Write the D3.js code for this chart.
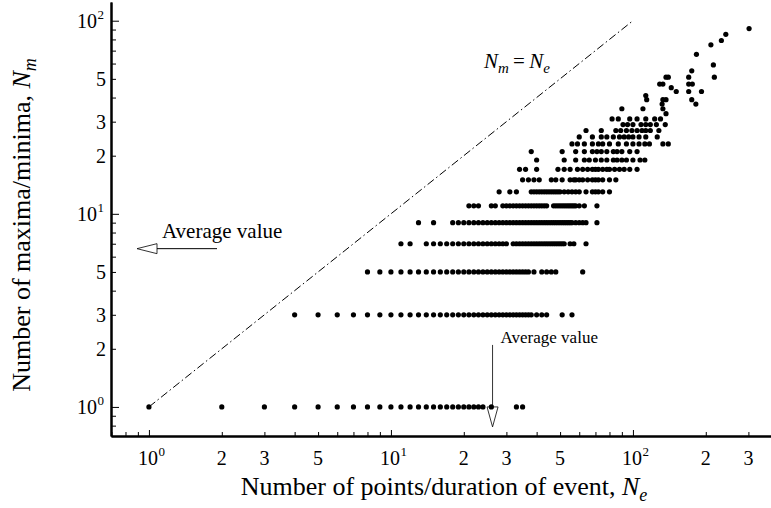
<!DOCTYPE html>
<html>
<head>
<meta charset="utf-8">
<script src="https://cdn.jsdelivr.net/npm/d3@7"></script>
<style>
  html, body { margin: 0; padding: 0; background: #fff; }
  svg { display: block; }
  text { font-family: "Liberation Serif", "Times New Roman", serif; fill: #000; }
</style>
</head>
<body>
<svg id="chart" width="771" height="508"></svg>
<script>
// Number of maxima/minima (odd counts) for each group of events
const nmLevels = [1, 3, 5, 7, 9, 11, 13, 15, 17, 19, 21, 23, 25, 27, 29, 31, 33, 35, 37, 39, 41, 43, 45, 47, 51, 55, 59, 67, 75, 79, 85, 91];

// Event durations (number of points) observed at each level above
const neAtLevel = [
  [1, 2, 3, 4, 5, 6, 7, 8, 9, 10, 11, 12, 13, 14, 15, 16, 17, 18, 19, 20, 21, 22, 23, 24, 26, 33, 35],
  [4, 5, 6, 7, 8, 9, 10, 11, 12, 13, 14, 15, 16, 17, 18, 19, 20, 21, 22, 23, 24, 25, 26, 27, 28, 29, 30, 31, 32, 33, 34, 35, 36, 37, 38, 40, 42, 44, 51, 56],
  [8, 9, 10, 11, 12, 13, 14, 15, 16, 17, 18, 19, 20, 21, 22, 23, 24, 25, 26, 27, 28, 29, 30, 31, 32, 33, 34, 35, 36, 37, 39, 42, 44, 46, 48, 62],
  [11, 12, 14, 15, 16, 17, 18, 19, 20, 21, 22, 23, 24, 25, 26, 27, 28, 29, 30, 32, 33, 34, 35, 36, 37, 38, 39, 40, 41, 42, 43, 44, 45, 46, 47, 48, 49, 50, 51, 52, 55, 57, 64],
  [13, 15, 18, 19, 20, 21, 22, 23, 24, 25, 26, 27, 28, 29, 30, 31, 32, 33, 34, 35, 36, 37, 38, 39, 40, 41, 42, 43, 44, 45, 46, 47, 48, 49, 50, 51, 52, 53, 54, 55, 56, 58, 60, 62, 64, 71],
  [21, 22, 23, 26, 27, 29, 30, 31, 32, 33, 34, 35, 36, 37, 38, 39, 40, 41, 42, 43, 44, 47, 48, 49, 50, 51, 52, 53, 54, 55, 56, 57, 58, 60, 63, 71],
  [28, 31, 33, 38, 39, 40, 41, 42, 43, 44, 45, 46, 47, 48, 49, 50, 52, 54, 56, 58, 60, 64, 68, 70, 72, 75, 80],
  [35, 37, 39, 41, 46, 48, 51, 55, 57, 58, 60, 62, 65, 68, 70, 72, 75, 80, 85],
  [34, 36, 40, 49, 52, 55, 59, 62, 65, 68, 70, 72, 75, 78, 80, 84, 88, 92, 97, 104],
  [40, 52, 58, 63, 66, 70, 74, 78, 83, 86, 90, 94, 100, 107, 112],
  [38, 51, 58, 63, 68, 71, 74, 78, 83, 86, 90, 97, 104],
  [56, 59, 63, 68, 72, 75, 80, 87, 94, 100, 106, 112, 117, 133, 140],
  [60, 68, 74, 78, 83, 88, 92, 96, 100, 106, 113, 126],
  [64, 74, 85, 89, 94, 99, 104, 109, 113, 118, 128],
  [91, 95, 100, 108, 113, 118, 125, 136],
  [82, 87, 97, 104, 113, 123, 130],
  [137],
  [90, 110, 133],
  [132, 182],
  [114, 133, 137, 175],
  [113],
  [151, 170, 192],
  [144],
  [129, 133, 170, 176],
  [137, 140, 170, 217],
  [175],
  [215],
  [183],
  [210],
  [232],
  [242],
  [302]
];

// Averages marked by the arrows
const avgNe = 26.3;
const avgNm = 6.6;

// Axis extents and ticks
const xDomain = [0.697, 372];
const yDomain = [0.707, 125];
const majorTicks = [1, 10, 100];
const xLabelTicks = [2, 3, 5, 20, 30, 50, 200, 300];
const yLabelTicks = [2, 3, 5, 20, 30, 50];
const xMinorTicks = [0.7, 0.8, 0.9, 2, 3, 4, 5, 6, 7, 8, 9, 20, 30, 40, 50, 60, 70, 80, 90, 200, 300];
const yMinorTicks = [0.8, 0.9, 2, 3, 4, 5, 6, 7, 8, 9, 20, 30, 40, 50, 60, 70, 80, 90];

const svg = d3.select("#chart");
const plotLeft = 111, plotTop = 2, plotBottom = 436, plotRight = 771;

const x = d3.scaleLog().domain(xDomain).range([plotLeft, plotRight]);
const y = d3.scaleLog().domain(yDomain).range([plotBottom, plotTop]);

const points = [];
nmLevels.forEach((nm, i) => neAtLevel[i].forEach(ne => points.push({ ne, nm })));

// Identity line Nm = Ne
svg.append("path")
  .datum([[1, 1], [100, 100]])
  .attr("d", d3.line().x(d => x(d[0])).y(d => y(d[1])))
  .attr("fill", "none")
  .attr("stroke", "#000")
  .attr("stroke-width", 1)
  .attr("stroke-dasharray", "8,3,1.5,3");

// Scatter
svg.append("g").selectAll("circle")
  .data(points)
  .join("circle")
  .attr("cx", d => x(d.ne))
  .attr("cy", d => y(d.nm))
  .attr("r", 2.6)
  .attr("fill", "#000");

// Axes (ticks point inward)
function styleAxis(g, w) {
  g.select(".domain").attr("stroke", "#000").attr("stroke-width", w);
  g.selectAll(".tick line").attr("stroke", "#000").attr("stroke-width", 1);
}
svg.append("g").attr("transform", `translate(${plotLeft},0)`)
  .call(d3.axisLeft(y).tickValues(yMinorTicks).tickSize(-5).tickSizeOuter(0).tickFormat(""))
  .call(g => styleAxis(g, 2));
svg.append("g").attr("transform", `translate(${plotLeft},0)`)
  .call(d3.axisLeft(y).tickValues(majorTicks).tickSize(-8).tickSizeOuter(0).tickFormat(""))
  .call(g => styleAxis(g, 2));
svg.append("g").attr("transform", `translate(0,${plotBottom})`)
  .call(d3.axisBottom(x).tickValues(xMinorTicks).tickSize(-4).tickSizeOuter(0).tickFormat(""))
  .call(g => styleAxis(g, 2));
svg.append("g").attr("transform", `translate(0,${plotBottom})`)
  .call(d3.axisBottom(x).tickValues(majorTicks).tickSize(-6).tickSizeOuter(0).tickFormat(""))
  .call(g => styleAxis(g, 2));

// Tick labels
const tickFont = 20, supFont = 13;
const xLabelY = 465;
majorTicks.forEach((v, k) => {
  const px = x(v);
  svg.append("text").attr("x", px - 1).attr("y", xLabelY).attr("text-anchor", "middle")
    .attr("font-size", tickFont).text("10");
  svg.append("text").attr("x", px + 9.5).attr("y", xLabelY - 9).attr("font-size", supFont).text(String(k));
});
xLabelTicks.forEach(v => {
  svg.append("text").attr("x", x(v)).attr("y", xLabelY).attr("text-anchor", "middle")
    .attr("font-size", tickFont).text(String(v).charAt(0));
});
majorTicks.forEach((v, k) => {
  const py = y(v);
  svg.append("text").attr("x", 97).attr("y", py + 7).attr("text-anchor", "end")
    .attr("font-size", tickFont).text("10");
  svg.append("text").attr("x", 97.5).attr("y", py - 2).attr("font-size", supFont).text(String(k));
});
yLabelTicks.forEach(v => {
  svg.append("text").attr("x", 106).attr("y", y(v) + 7).attr("text-anchor", "end")
    .attr("font-size", tickFont).text(String(v).charAt(0));
});

// Axis titles
const xt = svg.append("text").attr("x", 444).attr("y", 495).attr("text-anchor", "middle").attr("font-size", 26);
xt.append("tspan").text("Number of points/duration of event, ");
xt.append("tspan").attr("font-style", "italic").text("N");
xt.append("tspan").attr("font-style", "italic").attr("font-size", 18).attr("dy", 6).text("e");

const yt = svg.append("text").attr("transform", "translate(30,225) rotate(-90)")
  .attr("text-anchor", "middle").attr("font-size", 26);
yt.append("tspan").text("Number of maxima/minima, ");
yt.append("tspan").attr("font-style", "italic").text("N");
yt.append("tspan").attr("font-style", "italic").attr("font-size", 18).attr("dy", 6).text("m");

// Identity line label
const eq = svg.append("text").attr("x", 484).attr("y", 68).attr("font-size", 21);
eq.append("tspan").attr("font-style", "italic").text("N");
eq.append("tspan").attr("font-style", "italic").attr("font-size", 15).attr("dy", 5).text("m");
eq.append("tspan").attr("dy", -5).text("\u2009=\u2009");
eq.append("tspan").attr("font-style", "italic").text("N");
eq.append("tspan").attr("font-style", "italic").attr("font-size", 15).attr("dy", 5).text("e");

// Average value markers
const ay = y(avgNm);
const tipX = plotLeft + 26;
svg.append("line").attr("x1", tipX + 20).attr("x2", tipX + 80).attr("y1", ay).attr("y2", ay)
  .attr("stroke", "#000").attr("stroke-width", 1);
svg.append("path")
  .attr("d", `M${tipX},${ay} L${tipX + 20},${ay - 5} L${tipX + 20},${ay + 5} Z`)
  .attr("fill", "#fff").attr("stroke", "#000").attr("stroke-width", 0.8);
svg.append("text").attr("x", tipX + 25).attr("y", ay - 11).attr("font-size", 21).text("Average value");

const ax = x(avgNe);
const baseY = y(1);
svg.append("line").attr("x1", ax).attr("x2", ax).attr("y1", baseY - 62).attr("y2", baseY)
  .attr("stroke", "#000").attr("stroke-width", 0.8);
svg.append("path")
  .attr("d", `M${ax},${baseY + 20} L${ax - 5.5},${baseY} L${ax + 5.5},${baseY} Z`)
  .attr("fill", "none").attr("stroke", "#000").attr("stroke-width", 0.8);
svg.append("text").attr("x", ax + 8).attr("y", baseY - 64).attr("font-size", 17).text("Average value");
</script>
</body>
</html>
